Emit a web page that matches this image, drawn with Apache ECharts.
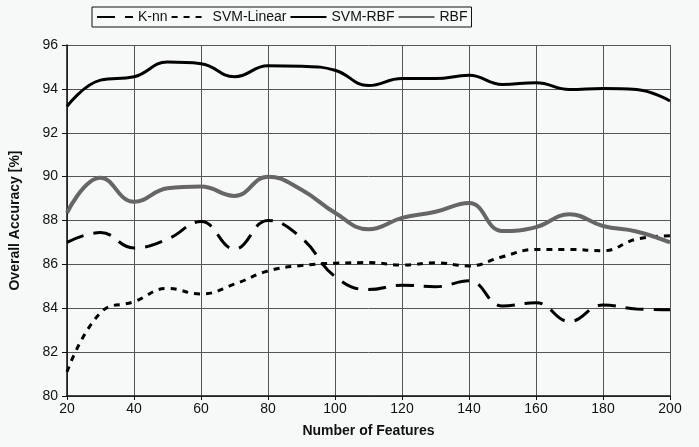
<!DOCTYPE html>
<html lang="en">

<head>
    <meta charset="UTF-8">
    <title>Overall Accuracy</title>
    <script src="https://cdn.jsdelivr.net/npm/echarts@6/dist/echarts.min.js"></script>
    <style>
        html, body {
            margin: 0;
            padding: 0;
            background: #ffffff;
        }

        #chart {
            width: 699px;
            height: 447px;
        }
    </style>
</head>

<body>
    <div id="chart"></div>
</body>
<script type="text/javascript">
    // number of features (x)
    const features = [20, 30, 40, 50, 60, 70, 80, 90, 100, 110, 120, 130, 140, 150, 160, 170, 180, 190, 200]

    // accuracy values
    const knn = [87.0, 87.45, 86.75, 87.15, 87.95, 86.7, 88.0, 87.2, 85.45, 84.85, 85.05, 84.98, 85.25, 84.1, 84.25, 83.4, 84.15, 83.97, 83.93]
    const svmLinear = [81.1, 83.8, 84.3, 84.9, 84.65, 85.1, 85.7, 85.95, 86.05, 86.08, 85.97, 86.07, 85.93, 86.35, 86.68, 86.68, 86.62, 87.15, 87.3]
    const svmRbf = [93.2, 94.4, 94.55, 95.22, 95.15, 94.55, 95.05, 95.03, 94.85, 94.15, 94.47, 94.47, 94.62, 94.2, 94.28, 93.97, 94.02, 93.97, 93.45]
    const rbf = [88.35, 89.95, 88.85, 89.47, 89.55, 89.12, 90.0, 89.4, 88.35, 87.6, 88.12, 88.4, 88.8, 87.52, 87.7, 88.28, 87.75, 87.5, 87.0]

    const seriesNames = ['K-nn', 'SVM-Linear', 'SVM-RBF', 'RBF']

    function pairs(ys) {
        return features.map((x, i) => [x, ys[i]])
    }

    let myChart = echarts.init(document.getElementById('chart'))
    const font = '"Liberation Sans", Arial, sans-serif'

    let option = {
        backgroundColor: '#f7f8f8',
        animation: false,
        textStyle: { fontFamily: font },
        legend: {
            data: seriesNames,
            left: 92,
            top: 7,
            padding: [3, 4],
            itemWidth: 36,
            itemHeight: 10,
            itemGap: 3,
            borderColor: '#111',
            borderWidth: 1,
            backgroundColor: '#f7f8f8',
            itemStyle: { opacity: 0 },
            textStyle: { fontSize: 14, color: '#111', fontFamily: font }
        },
        grid: {
            left: 67,
            right: 29,
            top: 45,
            bottom: 51
        },
        xAxis: {
            type: 'value',
            min: 20,
            max: 200,
            interval: 20,
            name: 'Number of Features',
            nameLocation: 'middle',
            nameGap: 28,
            nameTextStyle: { fontSize: 14, fontWeight: 'bold', color: '#111' },
            axisLine: { lineStyle: { color: '#111', width: 1.5 } },
            axisTick: { show: true, length: 4, lineStyle: { color: '#111' } },
            axisLabel: { fontSize: 14, color: '#111', margin: 6 },
            splitLine: { show: true, lineStyle: { color: '#555', width: 1 } }
        },
        yAxis: {
            type: 'value',
            min: 80,
            max: 96,
            interval: 2,
            name: 'Overall Accuracy [%]',
            nameLocation: 'middle',
            nameGap: 45,
            nameTextStyle: { fontSize: 14, fontWeight: 'bold', color: '#111' },
            axisLine: { show: true, lineStyle: { color: '#111', width: 1.5 } },
            axisTick: { show: true, length: 5, lineStyle: { color: '#111' } },
            axisLabel: { fontSize: 14, color: '#111', margin: 9 },
            splitLine: { show: true, lineStyle: { color: '#555', width: 1 } }
        },
        series: [{
            name: 'K-nn',
            type: 'line',
            data: pairs(knn),
            smooth: 0.45,
            symbol: 'none',
            itemStyle: { color: '#000' },
            lineStyle: { color: '#000', width: 3, type: [18, 10] }
        }, {
            name: 'SVM-Linear',
            type: 'line',
            data: pairs(svmLinear),
            smooth: 0.45,
            symbol: 'none',
            itemStyle: { color: '#000' },
            lineStyle: { color: '#000', width: 3, type: [6, 6] }
        }, {
            name: 'SVM-RBF',
            type: 'line',
            data: pairs(svmRbf),
            smooth: 0.45,
            symbol: 'none',
            itemStyle: { color: '#000' },
            lineStyle: { color: '#000', width: 3 }
        }, {
            name: 'RBF',
            type: 'line',
            data: pairs(rbf),
            smooth: 0.45,
            symbol: 'none',
            itemStyle: { color: '#666' },
            lineStyle: { color: '#666', width: 4 }
        }]
    }

    option && myChart.setOption(option)
</script>

</html>
